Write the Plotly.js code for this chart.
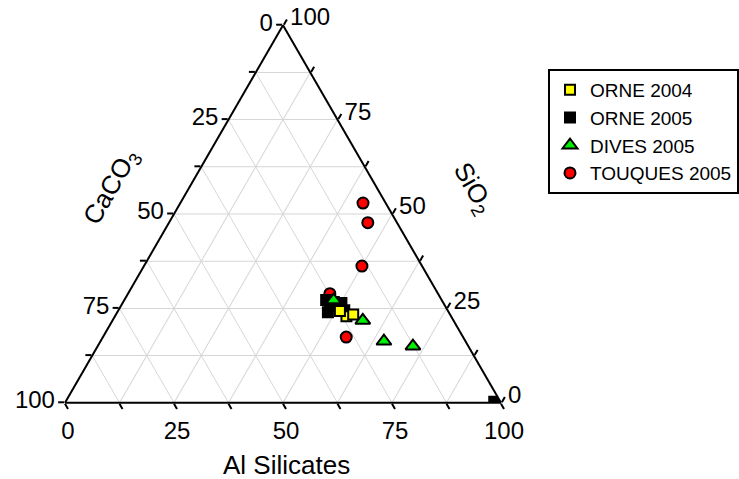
<!DOCTYPE html>
<html>
<head>
<meta charset="utf-8">
<script src="https://cdn.plot.ly/plotly-3.0.1.min.js"></script>
<style>html,body{margin:0;padding:0;background:#fff;}#chart{width:739px;height:479px;}</style>
</head>
<body>
<div id="chart"></div>
<script>
// Ternary components (percent): a = SiO2 (top), b = CaCO3 (bottom-left), c = Al Silicates (bottom-right)
var orne2004_SiO2  = [22.9, 23.4, 24.3];
var orne2004_CaCO3 = [24.0, 22.2, 24.8];
var orne2004_AlSil = [53.1, 54.4, 50.9];

var orne2005_SiO2  = [27.2, 26.2, 26.7, 25.6, 26.4, 24.8, 24.5, 24.0, 0.3];
var orne2005_CaCO3 = [26.5, 26.1, 25.0, 24.7, 23.4, 24.4, 23.7, 27.7, 1.4];
var orne2005_AlSil = [46.3, 47.7, 48.3, 49.7, 50.2, 50.8, 51.8, 48.3, 98.3];

var dives2005_SiO2  = [27.2, 21.8, 16.3, 15.0];
var dives2005_CaCO3 = [24.8, 20.8, 18.7, 12.7];
var dives2005_AlSil = [48.0, 57.4, 65.0, 72.3];

var touques2005_SiO2  = [52.9, 47.7, 36.2, 28.9, 17.4];
var touques2005_CaCO3 = [5.2, 6.7, 13.8, 24.8, 26.8];
var touques2005_AlSil = [41.9, 45.6, 50.0, 46.3, 55.8];

var tickVals = [0, 12.5, 25, 37.5, 50, 62.5, 75, 87.5, 100];
// Each edge shows the component that complements the plotly axis along that edge
var tickTextRev = ['100', '', '75', '', '50', '', '25', '', '0'];

var FONT = 'Liberation Sans, Arial, sans-serif';

function axis() {
  return {
    title: {text: ''},
    min: 0,
    tickmode: 'array',
    tickvals: tickVals,
    ticktext: tickTextRev,
    ticks: 'outside',
    ticklen: 6,
    tickwidth: 2,
    tickcolor: '#000',
    tickfont: {family: FONT, size: 24, color: '#000'},
    showline: true,
    linecolor: '#000',
    linewidth: 2,
    showgrid: true,
    gridcolor: '#d6d6d6',
    gridwidth: 1
  };
}

var mline = {color: '#000', width: 2};

var traces = [
  {type: 'scatterternary', mode: 'markers', name: 'TOUQUES 2005', legendrank: 4,
   a: touques2005_SiO2, b: touques2005_CaCO3, c: touques2005_AlSil,
   marker: {symbol: 'circle', size: 11, color: '#ff0000', line: mline}},
  {type: 'scatterternary', mode: 'markers', name: 'ORNE 2005', legendrank: 2,
   a: orne2005_SiO2, b: orne2005_CaCO3, c: orne2005_AlSil,
   marker: {symbol: 'square', size: 10, color: '#000000', line: mline}},
  {type: 'scatterternary', mode: 'markers', name: 'ORNE 2004', legendrank: 1,
   a: orne2004_SiO2, b: orne2004_CaCO3, c: orne2004_AlSil,
   marker: {symbol: 'square', size: 10, color: '#ffff00', line: mline}},
  {type: 'scatterternary', mode: 'markers', name: 'DIVES 2005', legendrank: 3,
   a: dives2005_SiO2, b: dives2005_CaCO3, c: dives2005_AlSil,
   marker: {symbol: 'triangle-up', size: 13, color: '#00ee00', line: mline}}
];

var layout = {
  width: 739, height: 479,
  margin: {l: 65, r: 238, t: 25, b: 76, pad: 0},
  paper_bgcolor: '#fff',
  font: {family: FONT, color: '#000'},
  showlegend: true,
  hovermode: false,
  ternary: {
    sum: 100,
    bgcolor: '#fff',
    domain: {x: [0, 1], y: [0, 1]},
    aaxis: axis(),
    baxis: axis(),
    caxis: axis()
  },
  legend: {
    xref: 'container', yref: 'container',
    x: 548 / 739, y: 1 - 69 / 479, xanchor: 'left', yanchor: 'top',
    bordercolor: '#000', borderwidth: 2, bgcolor: '#fff',
    font: {family: FONT, size: 19, color: '#000'},
    tracegroupgap: 0
  },
  annotations: [
    {text: 'CaCO<sub>3</sub>', xref: 'paper', yref: 'paper',
     x: (111 - 65) / 436, y: (403 - 187) / 378, xanchor: 'center', yanchor: 'middle',
     textangle: -60, showarrow: false, font: {family: FONT, size: 26, color: '#000'}},
    {text: 'SiO<sub>2</sub>', xref: 'paper', yref: 'paper',
     x: (472 - 65) / 436, y: (403 - 188) / 378, xanchor: 'center', yanchor: 'middle',
     textangle: 60, showarrow: false, font: {family: FONT, size: 26, color: '#000'}},
    {text: 'Al Silicates', xref: 'paper', yref: 'paper',
     x: (286 - 65) / 436, y: (403 - 465) / 378, xanchor: 'center', yanchor: 'middle',
     showarrow: false, font: {family: FONT, size: 26, color: '#000'}}
  ]
};

Plotly.newPlot('chart', traces, layout, {displayModeBar: false, staticPlot: true});
</script>
</body>
</html>
